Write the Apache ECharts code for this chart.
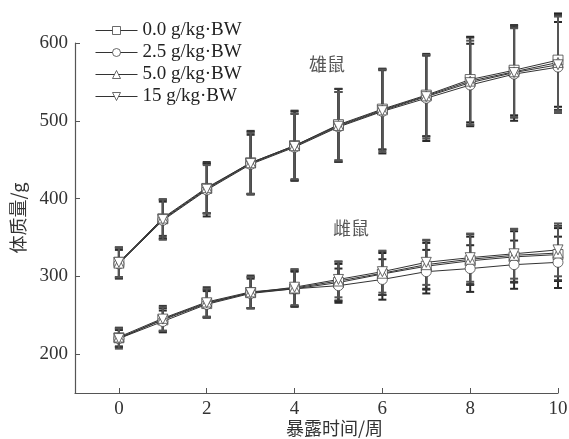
<!DOCTYPE html>
<html>
<head>
<meta charset="utf-8">
<script src="https://cdn.jsdelivr.net/npm/echarts@6/dist/echarts.min.js"></script>
<style>html,body{margin:0;padding:0;background:#fff}#c{width:569px;height:439px}</style>
</head>
<body>
<div id="c"></div>
<script>
const weeks = [0,1,2,3,4,5,6,7,8,9,10];
const doseNames = ['0.0 g/kg·BW','2.5 g/kg·BW','5.0 g/kg·BW','15 g/kg·BW'];
const xTicks = [0,2,4,6,8,10];
const yTicks = [200,300,400,500,600];

// Male means
const male0 = [318,374,413,446,468,495,515,533,553,565,578];
const male1 = [316,372,411,444,466,492,512,529,546,560,569];
const male2 = [317,375,414,446,468,494,514,532,551,563,575];
const male3 = [318,373,412,445,467,493,513,531,549,562,572];
// Male SD
const maleSd0 = [19,25,32,40,44,46,52,53,55,58,60];
const maleSd1 = [18,24,34,38,43,45,54,55,53,60,58];
const maleSd2 = [20,23,33,41,45,47,51,52,56,59,61];
const maleSd3 = [19,26,31,39,42,44,53,54,54,57,62];
// Female means
const female0 = [221,244,265,279,284,292,303,313,320,325,328];
const female1 = [220,242,264,278,284,288,296,306,310,315,318];
const female2 = [222,246,267,280,285,294,304,315,322,327,330];
const female3 = [220,245,266,279,286,296,306,318,324,329,334];
// Female SD
const femaleSd0 = [12,15,18,20,23,24,27,30,31,33,34];
const femaleSd1 = [11,14,17,19,22,22,26,28,30,31,33];
const femaleSd2 = [12,16,19,21,24,25,28,31,32,34,35];
const femaleSd3 = [13,15,18,20,23,23,27,29,31,32,34];

const maleMeans = [male0,male1,male2,male3];
const maleSds = [maleSd0,maleSd1,maleSd2,maleSd3];
const femaleMeans = [female0,female1,female2,female3];
const femaleSds = [femaleSd0,femaleSd1,femaleSd2,femaleSd3];

const symbols = ['rect','circle','triangle','path://M0,0 L10,0 L5,9 Z'];
const barColors = ['#222','#2a2a2a','#383838','#555'];

function errSeries(means, sds, i){
  return {
    type:'custom', z:2, silent:true,
    renderItem:function(params, api){
      const x = api.value(0), m = api.value(1), s = api.value(2);
      const t = api.coord([x, m + s]);
      const b = api.coord([x, m - s]);
      const w = 4;
      const st = {stroke: barColors[i], lineWidth: 2};
      return {type:'group', children:[
        {type:'line', shape:{x1:t[0],y1:t[1],x2:b[0],y2:b[1]}, style:st},
        {type:'line', shape:{x1:t[0]-w,y1:t[1],x2:t[0]+w,y2:t[1]}, style:st},
        {type:'line', shape:{x1:b[0]-w,y1:b[1],x2:b[0]+w,y2:b[1]}, style:st}
      ]};
    },
    data: weeks.map((w,k)=>[w, means[k], sds[k]])
  };
}
function lineSeries(means, i){
  return {
    type:'line', name: doseNames[i], z:3,
    data: weeks.map((w,k)=>[w, means[k]]),
    symbol: symbols[i], symbolSize: 10,
    showAllSymbol:true,
    lineStyle:{color:'#333', width:1},
    itemStyle:{color:'#fff', borderColor:'#444', borderWidth:0.8},
    emphasis:{disabled:true}
  };
}
const series = [];
for (let i=0;i<4;i++){
  series.push(errSeries(maleMeans[i], maleSds[i], i));
  series.push(errSeries(femaleMeans[i], femaleSds[i], i));
}
for (let i=0;i<4;i++){
  series.push(lineSeries(maleMeans[i], i));
  series.push(lineSeries(femaleMeans[i], i));
}

const serif = '"Liberation Serif","Noto Sans CJK SC",serif';
const chart = echarts.init(document.getElementById('c'));
chart.setOption({
  animation:false,
  backgroundColor:'#fff',
  grid:{left:75, right:11, top:43, bottom:46, outerBoundsMode:'none', containLabel:false},
  legend:{
    data: doseNames, orient:'vertical', left:90, top:16,
    itemWidth:42, itemHeight:10, itemGap:3,
    textStyle:{fontFamily:serif, fontSize:19, color:'#222'},
    itemStyle:{color:'#fff', borderColor:'#444', borderWidth:0.8},
    lineStyle:{color:'#333', width:1},
    inactiveColor:'#ccc'
  },
  xAxis:{
    type:'value', min:-1, max:10,
    name:'暴露时间/周', nameLocation:'middle', nameGap:26, nameMoveOverlap:false,
    nameTextStyle:{fontFamily:'"Noto Sans CJK SC"', fontSize:18, color:'#333', padding:[0,0,0,36]},
    axisLine:{show:true, onZero:false, lineStyle:{color:'#555', width:1.2}},
    axisTick:{show:true, inside:true, length:5, customValues:xTicks, lineStyle:{color:'#555'}},
    axisLabel:{customValues:xTicks, fontFamily:serif, fontSize:19, color:'#333', margin:7},
    splitLine:{show:false}
  },
  yAxis:{
    type:'value', min:150, max:600,
    name:'体质量/g', nameLocation:'middle', nameGap:48, nameRotate:90,
    nameTextStyle:{fontFamily:'"Noto Sans CJK SC"', fontSize:18, color:'#333'},
    axisLine:{show:true, onZero:false, lineStyle:{color:'#555', width:1.2}},
    axisTick:{show:true, inside:true, length:5, customValues:yTicks, lineStyle:{color:'#555'}},
    axisLabel:{customValues:yTicks, fontFamily:serif, fontSize:19, color:'#333', margin:7},
    splitLine:{show:false}
  },
  graphic:[
    {type:'text', left:309, top:55, style:{text:'雄鼠', font:'18px "Noto Sans CJK SC"', fill:'#555'}},
    {type:'text', left:333, top:219, style:{text:'雌鼠', font:'18px "Noto Sans CJK SC"', fill:'#555'}}
  ],
  series: series
});
</script>
</body>
</html>
